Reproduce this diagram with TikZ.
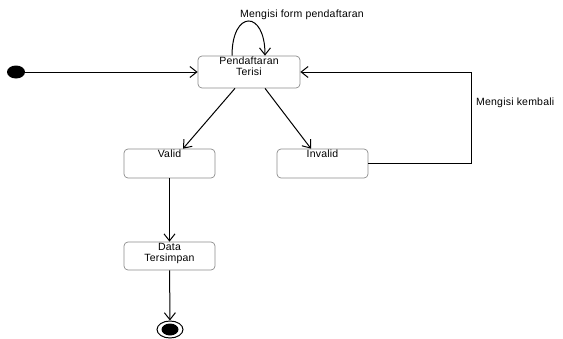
\documentclass[tikz,border=0pt]{standalone}
\usepackage{fontspec}
\setmainfont{Liberation Sans}[LetterSpace=2]
\usetikzlibrary{arrows.meta,shapes.geometric}
\begin{document}
\begin{tikzpicture}[x=1pt, y=-1pt, font=\fontsize{10.5}{11.5}\selectfont,
  state/.style = {draw=black!45, line width=0.7pt, rounded corners=4pt, minimum width=91pt, minimum height=29pt, inner sep=0pt},
  top/.style = {label={[anchor=north, inner sep=1pt, align=center]north:#1}},
  arr/.style = {-{Straight Barb[length=7pt, width=11pt]}, line width=1pt}]
  \useasboundingbox (0,0) rectangle (563,338);
  % states
  \node[state, minimum width=102pt, minimum height=32pt, top={Pendaftaran\\Terisi}] (pend) at (249,72) {};
  \node[state, top={Valid}] (valid) at (169.5,163.5) {};
  \node[state, top={Invalid}] (invalid) at (322.5,163.5) {};
  \node[state, minimum height=28pt, top={Data\\Tersimpan}] (data) at (169.5,256) {};
  \node[ellipse, fill, inner sep=0pt, minimum width=18pt, minimum height=13pt] (start) at (16,72) {};
  \node[ellipse, draw, line width=1pt, inner sep=0pt, minimum width=26pt, minimum height=17pt] (end) at (170,329.5) {};
  \node[ellipse, fill, inner sep=0pt, minimum width=17pt, minimum height=12pt] (endin) at (end) {};
  % labels
  \node[anchor=west, inner sep=0pt] (lblform) at (240,15) {Mengisi form pendaftaran};
  \node[anchor=west, inner sep=0pt] (lblback) at (476,103) {Mengisi kembali};
  \coordinate (back) at (471,72);
  % transitions
  \draw[arr] (start) -- (pend.west);
  \draw[arr] ([xshift=-17pt]pend.north) .. controls ([xshift=-17pt, yshift=46pt]pend.north) and ([xshift=16pt, yshift=46pt]pend.north) .. ([xshift=16pt]pend.north);
  \draw[arr] ([xshift=-14pt]pend.south) -- ([xshift=13.5pt]valid.north);
  \draw[arr] ([xshift=16pt]pend.south) -- ([xshift=-11.5pt]invalid.north);
  \draw[arr] (invalid.east) -| (back) -- (pend.east);
  \draw[arr] (valid) -- (data);
  \draw[arr] (data) -- (end);
\end{tikzpicture}
\end{document}
